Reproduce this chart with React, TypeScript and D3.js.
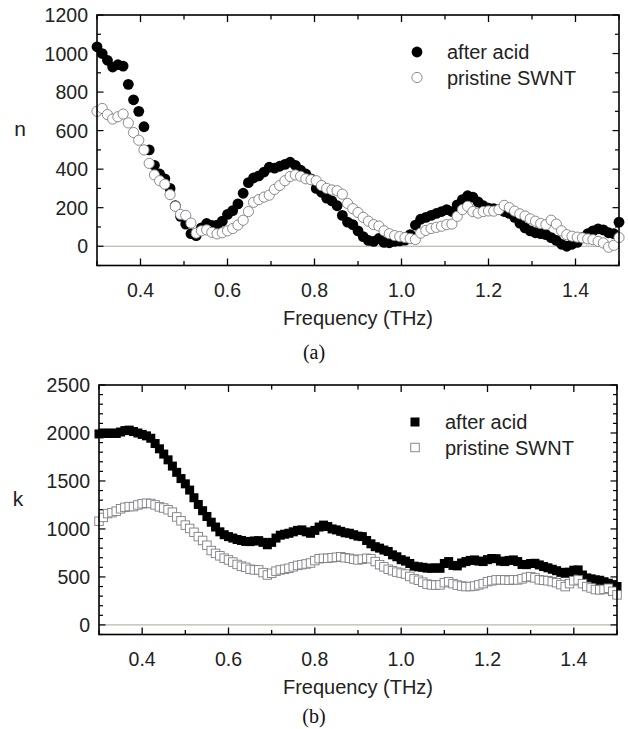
import * as d3 from 'd3';

// frequency grids (THz)
const nFreq = d3.range(101).map(i => 0.3 + i * 0.012);
const kFreq = d3.range(121).map(i => 0.3 + i * 0.01);

// (a) refractive index n
const nAfterAcid = [
  1035, 1000, 965, 930, 942, 935, 840, 760, 700, 620,
  500, 420, 375, 350, 300, 210, 155, 115, 65, 55,
  95, 118, 108, 110, 130, 165, 185, 220, 275, 330,
  355, 365, 385, 410, 405, 415, 425, 436, 420, 395,
  375, 350, 300, 280, 250, 235, 210, 160, 125, 112,
  80, 50, 30, 25, 40, 20, 18, 25, 28, 32,
  60, 110, 140, 150, 160, 170, 180, 190, 180, 215,
  242, 262, 255, 230, 210, 198, 195, 190, 180, 170,
  150, 120, 95, 80, 70, 65, 60, 45, 30, 10,
  0, 10, 20, 45, 65, 80, 90, 85, 70, 65,
  125,
];
const nPristine = [
  700, 715, 683, 660, 672, 686, 640, 590, 550, 500,
  430, 370, 340, 322, 268, 207, 165, 160, 120, 68,
  80, 85, 72, 64, 70, 80, 92, 110, 135, 180,
  228, 242, 255, 265, 295, 315, 340, 362, 370, 363,
  350, 345, 340, 315, 300, 292, 288, 270, 222, 195,
  175, 150, 130, 112, 105, 80, 65, 55, 50, 45,
  40, 35, 68, 82, 92, 98, 104, 112, 115, 155,
  190, 207, 180, 172, 180, 183, 182, 190, 212, 200,
  182, 168, 157, 142, 130, 118, 112, 135, 115, 80,
  60, 52, 47, 43, 38, 34, 25, 17, -5, 5,
  45,
];

// (b) extinction coefficient k
const kAfterAcid = [
  1990, 2000, 1995, 2000, 1995, 2010, 2025, 2030, 2015, 2000,
  1985, 1970, 1945, 1890, 1835, 1780, 1720, 1655, 1590, 1525,
  1470, 1405, 1325, 1255, 1190, 1130, 1070, 1020, 970, 940,
  920, 905, 890, 880, 870, 868, 875, 878, 860, 835,
  860, 905, 935, 945, 955, 970, 985, 990, 970, 955,
  985, 1020, 1040, 1025, 1000, 990, 975, 960, 955, 940,
  925, 920, 880, 845, 815, 800, 780, 765, 730, 710,
  680, 665, 640, 612, 605, 600, 592, 590, 595, 590,
  640, 660, 620, 615, 645, 660, 672, 677, 665, 660,
  680, 692, 690, 665, 660, 672, 677, 660, 630, 628,
  640, 642, 625, 608, 595, 580, 565, 548, 538, 550,
  570, 573, 520, 490, 480, 470, 465, 450, 434, 420,
  400,
];
const kPristine = [
  1080, 1120, 1160, 1170, 1185, 1210, 1225, 1233, 1233, 1250,
  1262, 1268, 1265, 1250, 1230, 1218, 1200, 1175, 1125, 1085,
  1040, 1005, 965, 920, 880, 830, 775, 745, 720, 695,
  677, 655, 630, 612, 600, 580, 573, 573, 545, 520,
  538, 560, 573, 580, 590, 605, 620, 628, 635, 645,
  670, 690, 694, 694, 700, 705, 710, 700, 694, 685,
  677, 685, 694, 690, 660, 628, 605, 580, 565, 550,
  540, 530, 505, 480, 465, 445, 425, 417, 415, 417,
  440, 450, 430, 415, 405, 399, 400, 405, 417, 430,
  451, 460, 469, 470, 469, 465, 470, 469, 480, 495,
  503, 490, 470, 465, 460, 451, 440, 420, 399, 430,
  460, 469, 430, 400, 385, 368, 365, 370, 382, 350,
  313,
];

const seriesNames = ['after acid', 'pristine SWNT'];
const xTickLabels = [0.4, 0.6, 0.8, 1.0, 1.2, 1.4];
const nTickLabels = [0, 200, 400, 600, 800, 1000, 1200];
const kTickLabels = [0, 500, 1000, 1500, 2000, 2500];

const sans = '"Liberation Sans", Arial, sans-serif';
const openStroke = '#7d7d85';

type PanelProps = {
  box: {left: number; right: number; top: number; bottom: number};
  yDomain: [number, number];
  yLabels: number[];
  yMajor: number;
  freq: number[];
  after: number[];
  pristine: number[];
  shape: 'circle' | 'square';
  yTitle: string;
  titleX: number;
  legend: {x: number; y: number};
  caption: string;
  captionY: number;
};

function Marker({x, y, shape, filled}: {x: number; y: number; shape: string; filled: boolean}) {
  if (shape === 'circle') {
    return filled
      ? <circle cx={x} cy={y} r={5.4} fill="#000" />
      : <circle cx={x} cy={y} r={5.1} fill="#fff" stroke={openStroke} strokeWidth={0.9} />;
  }
  const s = filled ? 9 : 8.5;
  return filled
    ? <rect x={x - s / 2} y={y - s / 2} width={s} height={s} fill="#000" />
    : <rect x={x - s / 2} y={y - s / 2} width={s} height={s} fill="#fff" stroke={openStroke} strokeWidth={0.9} />;
}

function Panel(p: PanelProps) {
  const {box} = p;
  const x = d3.scaleLinear().domain([0.3, 1.5]).range([box.left, box.right]);
  const y = d3.scaleLinear().domain(p.yDomain).range([box.bottom, box.top]);

  const xAll = d3.range(3, 16).map(d => d / 10);
  const yAll = d3.range(p.yDomain[0], p.yDomain[1] + 1, 100);
  const midX = (box.left + box.right) / 2;

  return (
    <g>
      {/* zero line */}
      <line x1={box.left} x2={box.right} y1={y(0)} y2={y(0)} stroke="#a8a898" strokeWidth={1} />

      {/* ticks, all pointing inwards */}
      {xAll.map((v, i) => {
        const major = Math.round(v * 10) % 2 === 0;
        const len = major ? 7 : 4.5;
        return (
          <g key={'xt' + i} stroke="#000" strokeWidth={1.3}>
            <line x1={x(v)} x2={x(v)} y1={box.bottom} y2={box.bottom - len} />
            <line x1={x(v)} x2={x(v)} y1={box.top} y2={box.top + len} />
          </g>
        );
      })}
      {yAll.map((v, i) => {
        const major = v % p.yMajor === 0;
        const len = major ? 6.5 : 4;
        return (
          <g key={'yt' + i} stroke="#000" strokeWidth={1.2}>
            <line x1={box.left} x2={box.left + len} y1={y(v)} y2={y(v)} />
            <line x1={box.right} x2={box.right - len} y1={y(v)} y2={y(v)} />
          </g>
        );
      })}

      {/* data: after acid first, pristine drawn on top */}
      {p.after.map((v, i) => (
        <Marker key={'a' + i} x={x(p.freq[i])} y={y(v)} shape={p.shape} filled />
      ))}
      {p.pristine.map((v, i) => (
        <Marker key={'p' + i} x={x(p.freq[i])} y={y(v)} shape={p.shape} filled={false} />
      ))}

      {/* frame */}
      <rect x={box.left} y={box.top} width={box.right - box.left} height={box.bottom - box.top}
        fill="none" stroke="#000" strokeWidth={1.6} />

      {/* tick labels */}
      {xTickLabels.map(v => (
        <text key={'xl' + v} x={x(v)} y={box.bottom + 31} textAnchor="middle"
          fontFamily={sans} fontSize={19.5} fill="#222">{v.toFixed(1)}</text>
      ))}
      {p.yLabels.map(v => (
        <text key={'yl' + v} x={box.left - 9} y={y(v) + 7} textAnchor="end"
          fontFamily={sans} fontSize={19.5} fill="#222">{v}</text>
      ))}

      {/* axis titles */}
      <text x={midX} y={box.bottom + 59} textAnchor="middle" fontFamily={sans} fontSize={20} fill="#222">
        Frequency (THz)
      </text>
      <text x={p.titleX} y={(box.top + box.bottom) / 2 - 4}
        textAnchor="middle" fontFamily={sans} fontSize={21} fill="#222">{p.yTitle}</text>

      {/* legend */}
      {seriesNames.map((name, i) => (
        <g key={name}>
          <Marker x={p.legend.x} y={p.legend.y + i * 25.5} shape={p.shape} filled={i === 0} />
          <text x={p.legend.x + 30} y={p.legend.y + i * 25.5 + 7} fontFamily={sans} fontSize={20} fill="#222">
            {name}
          </text>
        </g>
      ))}

      <text x={314} y={p.captionY} textAnchor="middle" fontFamily='"Liberation Serif", "Times New Roman", serif'
        fontSize={20} fill="#111">{p.caption}</text>
    </g>
  );
}

export default function App() {
  return (
    <svg width={628} height={729} style={{position: 'absolute', left: 0, top: 0, background: '#fff'}}>
      <Panel
        box={{left: 97, right: 619, top: 15, bottom: 265.5}}
        yDomain={[-100, 1200]}
        yLabels={nTickLabels}
        yMajor={200}
        freq={nFreq}
        after={nAfterAcid}
        pristine={nPristine}
        shape="circle"
        yTitle="n"
        titleX={20}
        legend={{x: 417, y: 52}}
        caption="(a)"
        captionY={359}
      />
      <Panel
        box={{left: 99, right: 617, top: 385, bottom: 634.5}}
        yDomain={[-100, 2500]}
        yLabels={kTickLabels}
        yMajor={500}
        freq={kFreq}
        after={kAfterAcid}
        pristine={kPristine}
        shape="square"
        yTitle="k"
        titleX={18}
        legend={{x: 415, y: 422}}
        caption="(b)"
        captionY={723}
      />
    </svg>
  );
}
